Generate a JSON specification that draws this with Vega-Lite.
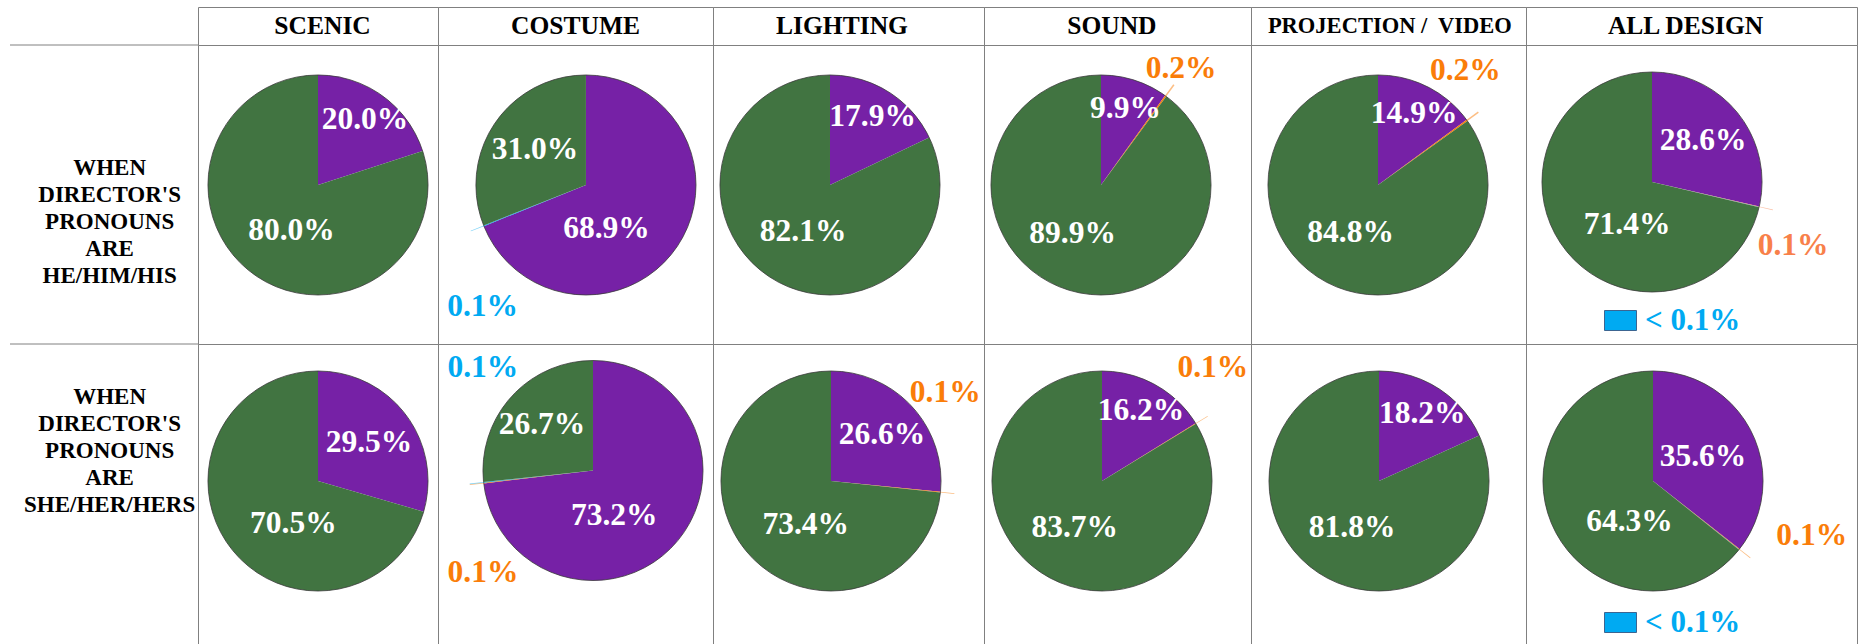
{
  "$schema": "https://vega.github.io/schema/vega-lite/v6.json",
  "padding": {"left": 9, "top": 6, "right": 0, "bottom": 0},
  "background": "white",
  "datasets": {
    "designs": [
      {"design": "SCENIC"}, {"design": "COSTUME"}, {"design": "LIGHTING"},
      {"design": "SOUND"}, {"design": "PROJECTION /\u00a0 VIDEO"}, {"design": "ALL DESIGN"}
    ],
    "rowlabels": [
      {"pronoun": "he", "label": "WHEN DIRECTOR'S PRONOUNS ARE HE/HIM/HIS"},
      {"pronoun": "she", "label": "WHEN DIRECTOR'S PRONOUNS ARE SHE/HER/HERS"}
    ],
    "slices": [
      {"design": "SCENIC", "pronoun": "he", "group": "she/her", "share": 0.200},
      {"design": "SCENIC", "pronoun": "he", "group": "he/him", "share": 0.800},
      {"design": "COSTUME", "pronoun": "he", "group": "she/her", "share": 0.689},
      {"design": "COSTUME", "pronoun": "he", "group": "other", "share": 0.001},
      {"design": "COSTUME", "pronoun": "he", "group": "he/him", "share": 0.310},
      {"design": "LIGHTING", "pronoun": "he", "group": "she/her", "share": 0.179},
      {"design": "LIGHTING", "pronoun": "he", "group": "he/him", "share": 0.821},
      {"design": "SOUND", "pronoun": "he", "group": "she/her", "share": 0.099},
      {"design": "SOUND", "pronoun": "he", "group": "they/them", "share": 0.002},
      {"design": "SOUND", "pronoun": "he", "group": "he/him", "share": 0.899},
      {"design": "PROJECTION /\u00a0 VIDEO", "pronoun": "he", "group": "she/her", "share": 0.149},
      {"design": "PROJECTION /\u00a0 VIDEO", "pronoun": "he", "group": "they/them", "share": 0.002},
      {"design": "PROJECTION /\u00a0 VIDEO", "pronoun": "he", "group": "he/him", "share": 0.848},
      {"design": "ALL DESIGN", "pronoun": "he", "group": "she/her", "share": 0.286},
      {"design": "ALL DESIGN", "pronoun": "he", "group": "they/them", "share": 0.001},
      {"design": "ALL DESIGN", "pronoun": "he", "group": "other", "share": 0.0004},
      {"design": "ALL DESIGN", "pronoun": "he", "group": "he/him", "share": 0.714},
      {"design": "SCENIC", "pronoun": "she", "group": "she/her", "share": 0.295},
      {"design": "SCENIC", "pronoun": "she", "group": "he/him", "share": 0.705},
      {"design": "COSTUME", "pronoun": "she", "group": "she/her", "share": 0.732},
      {"design": "COSTUME", "pronoun": "she", "group": "they/them", "share": 0.001},
      {"design": "COSTUME", "pronoun": "she", "group": "other", "share": 0.001},
      {"design": "COSTUME", "pronoun": "she", "group": "he/him", "share": 0.267},
      {"design": "LIGHTING", "pronoun": "she", "group": "she/her", "share": 0.266},
      {"design": "LIGHTING", "pronoun": "she", "group": "they/them", "share": 0.001},
      {"design": "LIGHTING", "pronoun": "she", "group": "he/him", "share": 0.734},
      {"design": "SOUND", "pronoun": "she", "group": "she/her", "share": 0.162},
      {"design": "SOUND", "pronoun": "she", "group": "they/them", "share": 0.001},
      {"design": "SOUND", "pronoun": "she", "group": "he/him", "share": 0.837},
      {"design": "PROJECTION /\u00a0 VIDEO", "pronoun": "she", "group": "she/her", "share": 0.182},
      {"design": "PROJECTION /\u00a0 VIDEO", "pronoun": "she", "group": "he/him", "share": 0.818},
      {"design": "ALL DESIGN", "pronoun": "she", "group": "she/her", "share": 0.356},
      {"design": "ALL DESIGN", "pronoun": "she", "group": "they/them", "share": 0.001},
      {"design": "ALL DESIGN", "pronoun": "she", "group": "other", "share": 0.0004},
      {"design": "ALL DESIGN", "pronoun": "she", "group": "he/him", "share": 0.643}
    ]
  },
  "columns": 7,
  "spacing": 0,
  "bounds": "flush",
  "align": "each",
  "resolve": {"scale": {"color": "independent"}, "legend": {"color": "independent"}},
  "concat": [
    {"width": 188, "height": 38, "view": {"stroke": null}, "data": {"values": [{"k": 1}]},
     "mark": {"type": "rule", "color": "#808080", "strokeWidth": 1}, "encoding": {"y": {"value": "height"}}},
    {"width": 240, "height": 38, "data": {"name": "designs"}, "transform": [{"filter": "datum.design === 'SCENIC'"}],
     "mark": {"type": "text", "font": "Liberation Serif", "fontWeight": "bold", "fontSize": 25.5, "color": "black", "baseline": "middle"},
     "encoding": {"x": {"field": "design", "type": "nominal", "scale": {"type": "point", "align": 0.519}, "axis": null},
                  "y": {"field": "design", "type": "nominal", "scale": {"type": "point", "align": 0.5}, "axis": null},
                  "text": {"field": "design"}}},
    {"width": 275, "height": 38, "data": {"name": "designs"}, "transform": [{"filter": "datum.design === 'COSTUME'"}],
     "mark": {"type": "text", "font": "Liberation Serif", "fontWeight": "bold", "fontSize": 25.5, "color": "black", "baseline": "middle"},
     "encoding": {"x": {"field": "design", "type": "nominal", "scale": {"type": "point", "align": 0.5}, "axis": null},
                  "y": {"field": "design", "type": "nominal", "scale": {"type": "point", "align": 0.5}, "axis": null},
                  "text": {"field": "design"}}},
    {"width": 271, "height": 38, "data": {"name": "designs"}, "transform": [{"filter": "datum.design === 'LIGHTING'"}],
     "mark": {"type": "text", "font": "Liberation Serif", "fontWeight": "bold", "fontSize": 25.5, "color": "black", "baseline": "middle"},
     "encoding": {"x": {"field": "design", "type": "nominal", "scale": {"type": "point", "align": 0.476}, "axis": null},
                  "y": {"field": "design", "type": "nominal", "scale": {"type": "point", "align": 0.5}, "axis": null},
                  "text": {"field": "design"}}},
    {"width": 267, "height": 38, "data": {"name": "designs"}, "transform": [{"filter": "datum.design === 'SOUND'"}],
     "mark": {"type": "text", "font": "Liberation Serif", "fontWeight": "bold", "fontSize": 25.5, "color": "black", "baseline": "middle"},
     "encoding": {"x": {"field": "design", "type": "nominal", "scale": {"type": "point", "align": 0.479}, "axis": null},
                  "y": {"field": "design", "type": "nominal", "scale": {"type": "point", "align": 0.5}, "axis": null},
                  "text": {"field": "design"}}},
    {"width": 275, "height": 38, "data": {"name": "designs"}, "transform": [{"filter": "datum.design === 'PROJECTION /\u00a0 VIDEO'"}],
     "mark": {"type": "text", "font": "Liberation Serif", "fontWeight": "bold", "fontSize": 22.5, "color": "black", "baseline": "middle"},
     "encoding": {"x": {"field": "design", "type": "nominal", "scale": {"type": "point", "align": 0.505}, "axis": null},
                  "y": {"field": "design", "type": "nominal", "scale": {"type": "point", "align": 0.5}, "axis": null},
                  "text": {"field": "design"}}},
    {"width": 331, "height": 38, "data": {"name": "designs"}, "transform": [{"filter": "datum.design === 'ALL DESIGN'"}],
     "mark": {"type": "text", "font": "Liberation Serif", "fontWeight": "bold", "fontSize": 25.5, "color": "black", "baseline": "middle"},
     "encoding": {"x": {"field": "design", "type": "nominal", "scale": {"type": "point", "align": 0.482}, "axis": null},
                  "y": {"field": "design", "type": "nominal", "scale": {"type": "point", "align": 0.5}, "axis": null},
                  "text": {"field": "design"}}},

    {"width": 188, "height": 299, "view": {"stroke": null}, "data": {"name": "rowlabels"}, "transform": [{"filter": "datum.pronoun === 'he'"}],
     "layer": [
       {"mark": {"type": "text", "font": "Liberation Serif", "fontWeight": "bold", "fontSize": 23, "lineHeight": 27, "lineBreak": " ", "baseline": "middle", "color": "black"},
        "encoding": {"x": {"field": "pronoun", "type": "nominal", "scale": {"type": "point", "align": 0.53}, "axis": null},
                     "y": {"field": "pronoun", "type": "nominal", "scale": {"type": "point", "align": 0.411}, "axis": null},
                     "text": {"field": "label"}}},
       {"mark": {"type": "rule", "color": "#808080", "strokeWidth": 1}, "encoding": {"y": {"value": "height"}}}
     ]},

    {"width": 240, "height": 299, "data": {"name": "slices"},
     "transform": [{"filter": "datum.design === 'SCENIC' && datum.pronoun === 'he'"},
                   {"calculate": "indexof(['she/her','they/them','other','he/him'], datum.group)", "as": "ord"},
                   {"stack": "share", "groupby": ["pronoun"], "sort": [{"field": "ord", "order": "ascending"}], "offset": "normalize", "as": ["s0", "s1"]},
                   {"calculate": "(datum.s0 + datum.s1) / 2", "as": "mid"},
                   {"calculate": "datum.share >= 0.5 ? (datum.mid >= 0.5 ? 0.583 : 0.431) : datum.mid", "as": "lab"}],
     "encoding": {"x": {"field": "design", "type": "nominal", "scale": {"type": "point", "align": 0.5}, "axis": null},
                  "y": {"field": "pronoun", "type": "nominal", "scale": {"type": "point", "align": 0.4682}, "axis": null},
                  "color": {"field": "group", "type": "nominal", "scale": {"domain": ["she/her", "they/them", "other", "he/him"], "range": ["#7621A6", "#FA7D09", "#00AAF2", "#417441"]}, "legend": null}},
     "layer": [
       {"mark": {"type": "arc", "radius": 110}, "encoding": {"theta": {"field": "s0", "type": "quantitative", "scale": {"domain": [0, 1]}}, "theta2": {"field": "s1"}}},
       {"transform": [{"filter": "datum.ord === 0"}], "mark": {"type": "arc", "radius": 110, "theta": 0, "theta2": 6.2832, "strokeWidth": 0.8}, "encoding": {"fill": {"value": "transparent"}, "stroke": {"value": "#3a3a3a"}}},
       {"transform": [{"filter": "datum.share >= 0.01"}], "mark": {"type": "text", "font": "Liberation Serif", "fontSize": 31.5, "fontWeight": "bold", "baseline": "middle"}, "encoding": {"theta": {"field": "lab", "type": "quantitative", "stack": null}, "radius": {"field": "share", "type": "quantitative", "scale": {"type": "linear", "zero": false, "clamp": true, "domain": [0.1, 0.2, 0.3, 0.36, 0.64, 0.9], "range": [80, 80, 63, 55, 47, 57]}}, "text": {"field": "share", "type": "quantitative", "format": ".1%"}, "color": {"value": "white"}}}
     ]},

    {"width": 275, "height": 299, "data": {"name": "slices"},
     "transform": [{"filter": "datum.design === 'COSTUME' && datum.pronoun === 'he'"},
                   {"calculate": "indexof(['she/her','they/them','other','he/him'], datum.group)", "as": "ord"},
                   {"stack": "share", "groupby": ["pronoun"], "sort": [{"field": "ord", "order": "ascending"}], "offset": "normalize", "as": ["s0", "s1"]},
                   {"calculate": "(datum.s0 + datum.s1) / 2", "as": "mid"},
                   {"calculate": "datum.share >= 0.5 ? (datum.mid >= 0.5 ? 0.583 : 0.431) : datum.mid", "as": "lab"}],
     "encoding": {"x": {"field": "design", "type": "nominal", "scale": {"type": "point", "align": 0.538}, "axis": null},
                  "y": {"field": "pronoun", "type": "nominal", "scale": {"type": "point", "align": 0.4682}, "axis": null},
                  "color": {"field": "group", "type": "nominal", "scale": {"domain": ["she/her", "they/them", "other", "he/him"], "range": ["#7621A6", "#FA7D09", "#00AAF2", "#417441"]}, "legend": null}},
     "layer": [
       {"mark": {"type": "arc", "radius": 110}, "encoding": {"theta": {"field": "s0", "type": "quantitative", "scale": {"domain": [0, 1]}}, "theta2": {"field": "s1"}}},
       {"transform": [{"filter": "datum.ord === 0"}], "mark": {"type": "arc", "radius": 110, "theta": 0, "theta2": 6.2832, "strokeWidth": 0.8}, "encoding": {"fill": {"value": "transparent"}, "stroke": {"value": "#3a3a3a"}}},
       {"transform": [{"filter": "datum.share >= 0.001 && datum.share < 0.01"}], "mark": {"type": "arc", "radius": 124, "radius2": 110, "opacity": 0.5}, "encoding": {"theta": {"field": "s0", "type": "quantitative"}, "theta2": {"field": "s1"}}},
       {"transform": [{"filter": "datum.share >= 0.01"}], "mark": {"type": "text", "font": "Liberation Serif", "fontSize": 31.5, "fontWeight": "bold", "baseline": "middle"}, "encoding": {"theta": {"field": "lab", "type": "quantitative", "stack": null}, "radius": {"field": "share", "type": "quantitative", "scale": {"type": "linear", "zero": false, "clamp": true, "domain": [0.1, 0.2, 0.3, 0.36, 0.64, 0.9], "range": [80, 80, 63, 55, 47, 57]}}, "text": {"field": "share", "type": "quantitative", "format": ".1%"}, "color": {"value": "white"}}},
       {"transform": [{"filter": "datum.share >= 0.001 && datum.share < 0.01"}], "mark": {"type": "text", "radius": 150, "dx": 36, "dy": 66, "font": "Liberation Serif", "fontSize": 31.5, "fontWeight": "bold", "baseline": "middle"}, "encoding": {"theta": {"field": "mid", "type": "quantitative", "stack": null}, "text": {"field": "share", "type": "quantitative", "format": ".1%"}}}
     ]},

    {"width": 271, "height": 299, "data": {"name": "slices"},
     "transform": [{"filter": "datum.design === 'LIGHTING' && datum.pronoun === 'he'"},
                   {"calculate": "indexof(['she/her','they/them','other','he/him'], datum.group)", "as": "ord"},
                   {"stack": "share", "groupby": ["pronoun"], "sort": [{"field": "ord", "order": "ascending"}], "offset": "normalize", "as": ["s0", "s1"]},
                   {"calculate": "(datum.s0 + datum.s1) / 2", "as": "mid"},
                   {"calculate": "datum.share >= 0.5 ? (datum.mid >= 0.5 ? 0.583 : 0.431) : datum.mid", "as": "lab"}],
     "encoding": {"x": {"field": "design", "type": "nominal", "scale": {"type": "point", "align": 0.4317}, "axis": null},
                  "y": {"field": "pronoun", "type": "nominal", "scale": {"type": "point", "align": 0.4682}, "axis": null},
                  "color": {"field": "group", "type": "nominal", "scale": {"domain": ["she/her", "they/them", "other", "he/him"], "range": ["#7621A6", "#FA7D09", "#00AAF2", "#417441"]}, "legend": null}},
     "layer": [
       {"mark": {"type": "arc", "radius": 110}, "encoding": {"theta": {"field": "s0", "type": "quantitative", "scale": {"domain": [0, 1]}}, "theta2": {"field": "s1"}}},
       {"transform": [{"filter": "datum.ord === 0"}], "mark": {"type": "arc", "radius": 110, "theta": 0, "theta2": 6.2832, "strokeWidth": 0.8}, "encoding": {"fill": {"value": "transparent"}, "stroke": {"value": "#3a3a3a"}}},
       {"transform": [{"filter": "datum.share >= 0.01"}], "mark": {"type": "text", "font": "Liberation Serif", "fontSize": 31.5, "fontWeight": "bold", "baseline": "middle"}, "encoding": {"theta": {"field": "lab", "type": "quantitative", "stack": null}, "radius": {"field": "share", "type": "quantitative", "scale": {"type": "linear", "zero": false, "clamp": true, "domain": [0.1, 0.2, 0.3, 0.36, 0.64, 0.9], "range": [80, 80, 63, 55, 47, 57]}}, "text": {"field": "share", "type": "quantitative", "format": ".1%"}, "color": {"value": "white"}}}
     ]},

    {"width": 267, "height": 299, "data": {"name": "slices"},
     "transform": [{"filter": "datum.design === 'SOUND' && datum.pronoun === 'he'"},
                   {"calculate": "indexof(['she/her','they/them','other','he/him'], datum.group)", "as": "ord"},
                   {"stack": "share", "groupby": ["pronoun"], "sort": [{"field": "ord", "order": "ascending"}], "offset": "normalize", "as": ["s0", "s1"]},
                   {"calculate": "(datum.s0 + datum.s1) / 2", "as": "mid"},
                   {"calculate": "datum.share >= 0.5 ? (datum.mid >= 0.5 ? 0.583 : 0.431) : datum.mid", "as": "lab"}],
     "encoding": {"x": {"field": "design", "type": "nominal", "scale": {"type": "point", "align": 0.4382}, "axis": null},
                  "y": {"field": "pronoun", "type": "nominal", "scale": {"type": "point", "align": 0.4682}, "axis": null},
                  "color": {"field": "group", "type": "nominal", "scale": {"domain": ["she/her", "they/them", "other", "he/him"], "range": ["#7621A6", "#FA7D09", "#00AAF2", "#417441"]}, "legend": null}},
     "layer": [
       {"mark": {"type": "arc", "radius": 110}, "encoding": {"theta": {"field": "s0", "type": "quantitative", "scale": {"domain": [0, 1]}}, "theta2": {"field": "s1"}}},
       {"transform": [{"filter": "datum.ord === 0"}], "mark": {"type": "arc", "radius": 110, "theta": 0, "theta2": 6.2832, "strokeWidth": 0.8}, "encoding": {"fill": {"value": "transparent"}, "stroke": {"value": "#3a3a3a"}}},
       {"transform": [{"filter": "datum.share >= 0.001 && datum.share < 0.01"}], "mark": {"type": "arc", "radius": 124, "radius2": 110, "opacity": 0.5}, "encoding": {"theta": {"field": "s0", "type": "quantitative"}, "theta2": {"field": "s1"}}},
       {"transform": [{"filter": "datum.share >= 0.01"}], "mark": {"type": "text", "font": "Liberation Serif", "fontSize": 31.5, "fontWeight": "bold", "baseline": "middle"}, "encoding": {"theta": {"field": "lab", "type": "quantitative", "stack": null}, "radius": {"field": "share", "type": "quantitative", "scale": {"type": "linear", "zero": false, "clamp": true, "domain": [0.1, 0.2, 0.3, 0.36, 0.64, 0.9], "range": [80, 80, 63, 55, 47, 57]}}, "text": {"field": "share", "type": "quantitative", "format": ".1%"}, "color": {"value": "white"}}},
       {"transform": [{"filter": "datum.share >= 0.001 && datum.share < 0.01"}], "mark": {"type": "text", "radius": 150, "dx": -8, "dy": 5, "font": "Liberation Serif", "fontSize": 31.5, "fontWeight": "bold", "baseline": "middle"}, "encoding": {"theta": {"field": "mid", "type": "quantitative", "stack": null}, "text": {"field": "share", "type": "quantitative", "format": ".1%"}}}
     ]},

    {"width": 275, "height": 299, "data": {"name": "slices"},
     "transform": [{"filter": "datum.design === 'PROJECTION /\u00a0 VIDEO' && datum.pronoun === 'he'"},
                   {"calculate": "indexof(['she/her','they/them','other','he/him'], datum.group)", "as": "ord"},
                   {"stack": "share", "groupby": ["pronoun"], "sort": [{"field": "ord", "order": "ascending"}], "offset": "normalize", "as": ["s0", "s1"]},
                   {"calculate": "(datum.s0 + datum.s1) / 2", "as": "mid"},
                   {"calculate": "datum.share >= 0.5 ? (datum.mid >= 0.5 ? 0.583 : 0.431) : datum.mid", "as": "lab"}],
     "encoding": {"x": {"field": "design", "type": "nominal", "scale": {"type": "point", "align": 0.4618}, "axis": null},
                  "y": {"field": "pronoun", "type": "nominal", "scale": {"type": "point", "align": 0.4682}, "axis": null},
                  "color": {"field": "group", "type": "nominal", "scale": {"domain": ["she/her", "they/them", "other", "he/him"], "range": ["#7621A6", "#FA7D09", "#00AAF2", "#417441"]}, "legend": null}},
     "layer": [
       {"mark": {"type": "arc", "radius": 110}, "encoding": {"theta": {"field": "s0", "type": "quantitative", "scale": {"domain": [0, 1]}}, "theta2": {"field": "s1"}}},
       {"transform": [{"filter": "datum.ord === 0"}], "mark": {"type": "arc", "radius": 110, "theta": 0, "theta2": 6.2832, "strokeWidth": 0.8}, "encoding": {"fill": {"value": "transparent"}, "stroke": {"value": "#3a3a3a"}}},
       {"transform": [{"filter": "datum.share >= 0.001 && datum.share < 0.01"}], "mark": {"type": "arc", "radius": 124, "radius2": 110, "opacity": 0.5}, "encoding": {"theta": {"field": "s0", "type": "quantitative"}, "theta2": {"field": "s1"}}},
       {"transform": [{"filter": "datum.share >= 0.01"}], "mark": {"type": "text", "font": "Liberation Serif", "fontSize": 31.5, "fontWeight": "bold", "baseline": "middle"}, "encoding": {"theta": {"field": "lab", "type": "quantitative", "stack": null}, "radius": {"field": "share", "type": "quantitative", "scale": {"type": "linear", "zero": false, "clamp": true, "domain": [0.1, 0.2, 0.3, 0.36, 0.64, 0.9], "range": [80, 80, 63, 55, 47, 57]}}, "text": {"field": "share", "type": "quantitative", "format": ".1%"}, "color": {"value": "white"}}},
       {"transform": [{"filter": "datum.share >= 0.001 && datum.share < 0.01"}], "mark": {"type": "text", "radius": 150, "dx": -34, "dy": -26, "font": "Liberation Serif", "fontSize": 31.5, "fontWeight": "bold", "baseline": "middle"}, "encoding": {"theta": {"field": "mid", "type": "quantitative", "stack": null}, "text": {"field": "share", "type": "quantitative", "format": ".1%"}}}
     ]},

    {"width": 331, "height": 299, "data": {"name": "slices"},
     "transform": [{"filter": "datum.design === 'ALL DESIGN' && datum.pronoun === 'he'"},
                   {"calculate": "indexof(['she/her','they/them','other','he/him'], datum.group)", "as": "ord"},
                   {"stack": "share", "groupby": ["pronoun"], "sort": [{"field": "ord", "order": "ascending"}], "offset": "normalize", "as": ["s0", "s1"]},
                   {"calculate": "(datum.s0 + datum.s1) / 2", "as": "mid"},
                   {"calculate": "datum.share >= 0.5 ? (datum.mid >= 0.5 ? 0.583 : 0.431) : datum.mid", "as": "lab"}],
     "encoding": {"x": {"field": "design", "type": "nominal", "scale": {"type": "point", "align": 0.3807}, "axis": null},
                  "y": {"field": "pronoun", "type": "nominal", "scale": {"type": "point", "align": 0.4582}, "axis": null},
                  "color": {"field": "group", "type": "nominal", "scale": {"domain": ["she/her", "they/them", "other", "he/him"], "range": ["#7621A6", "#F8804A", "#00AAF2", "#417441"]},
                            "legend": {"values": ["other"], "title": null, "orient": "none", "legendX": 78, "legendY": 259, "padding": 0,
                                       "symbolType": "M-1,-0.625L1,-0.625L1,0.625L-1,0.625Z", "symbolSize": 1024, "symbolStrokeColor": "#3c6591", "symbolStrokeWidth": 1, "symbolOpacity": 1,
                                       "labelExpr": "'< 0.1%'", "labelFont": "Liberation Serif", "labelFontSize": 31, "labelFontWeight": "bold", "labelColor": "#00AAF2", "labelOffset": 8}}},
     "layer": [
       {"mark": {"type": "arc", "radius": 110}, "encoding": {"theta": {"field": "s0", "type": "quantitative", "scale": {"domain": [0, 1]}}, "theta2": {"field": "s1"}}},
       {"transform": [{"filter": "datum.ord === 0"}], "mark": {"type": "arc", "radius": 110, "theta": 0, "theta2": 6.2832, "strokeWidth": 0.8}, "encoding": {"fill": {"value": "transparent"}, "stroke": {"value": "#3a3a3a"}}},
       {"transform": [{"filter": "datum.share >= 0.001 && datum.share < 0.01"}], "mark": {"type": "arc", "radius": 124, "radius2": 110, "opacity": 0.5}, "encoding": {"theta": {"field": "s0", "type": "quantitative"}, "theta2": {"field": "s1"}}},
       {"transform": [{"filter": "datum.share >= 0.01"}], "mark": {"type": "text", "font": "Liberation Serif", "fontSize": 31.5, "fontWeight": "bold", "baseline": "middle"}, "encoding": {"theta": {"field": "lab", "type": "quantitative", "stack": null}, "radius": {"field": "share", "type": "quantitative", "scale": {"type": "linear", "zero": false, "clamp": true, "domain": [0.1, 0.2, 0.3, 0.36, 0.64, 0.9], "range": [80, 80, 63, 55, 47, 57]}}, "text": {"field": "share", "type": "quantitative", "format": ".1%"}, "color": {"value": "white"}}},
       {"transform": [{"filter": "datum.share >= 0.001 && datum.share < 0.01"}], "mark": {"type": "text", "radius": 150, "dx": -5, "dy": 30, "font": "Liberation Serif", "fontSize": 31.5, "fontWeight": "bold", "baseline": "middle"}, "encoding": {"theta": {"field": "mid", "type": "quantitative", "stack": null}, "text": {"field": "share", "type": "quantitative", "format": ".1%"}}}
     ]},

    {"width": 188, "height": 300, "view": {"stroke": null}, "data": {"name": "rowlabels"}, "transform": [{"filter": "datum.pronoun === 'she'"}],
     "mark": {"type": "text", "font": "Liberation Serif", "fontWeight": "bold", "fontSize": 23, "lineHeight": 27, "lineBreak": " ", "baseline": "middle", "color": "black"},
     "encoding": {"x": {"field": "pronoun", "type": "nominal", "scale": {"type": "point", "align": 0.53}, "axis": null},
                  "y": {"field": "pronoun", "type": "nominal", "scale": {"type": "point", "align": 0.177}, "axis": null},
                  "text": {"field": "label"}}},

    {"width": 240, "height": 300, "data": {"name": "slices"},
     "transform": [{"filter": "datum.design === 'SCENIC' && datum.pronoun === 'she'"},
                   {"calculate": "indexof(['she/her','they/them','other','he/him'], datum.group)", "as": "ord"},
                   {"stack": "share", "groupby": ["pronoun"], "sort": [{"field": "ord", "order": "ascending"}], "offset": "normalize", "as": ["s0", "s1"]},
                   {"calculate": "(datum.s0 + datum.s1) / 2", "as": "mid"},
                   {"calculate": "datum.share >= 0.5 ? (datum.mid >= 0.5 ? 0.583 : 0.431) : datum.mid", "as": "lab"}],
     "encoding": {"x": {"field": "design", "type": "nominal", "scale": {"type": "point", "align": 0.5}, "axis": null},
                  "y": {"field": "pronoun", "type": "nominal", "scale": {"type": "point", "align": 0.4567}, "axis": null},
                  "color": {"field": "group", "type": "nominal", "scale": {"domain": ["she/her", "they/them", "other", "he/him"], "range": ["#7621A6", "#FA7D09", "#00AAF2", "#417441"]}, "legend": null}},
     "layer": [
       {"mark": {"type": "arc", "radius": 110}, "encoding": {"theta": {"field": "s0", "type": "quantitative", "scale": {"domain": [0, 1]}}, "theta2": {"field": "s1"}}},
       {"transform": [{"filter": "datum.ord === 0"}], "mark": {"type": "arc", "radius": 110, "theta": 0, "theta2": 6.2832, "strokeWidth": 0.8}, "encoding": {"fill": {"value": "transparent"}, "stroke": {"value": "#3a3a3a"}}},
       {"transform": [{"filter": "datum.share >= 0.01"}], "mark": {"type": "text", "font": "Liberation Serif", "fontSize": 31.5, "fontWeight": "bold", "baseline": "middle"}, "encoding": {"theta": {"field": "lab", "type": "quantitative", "stack": null}, "radius": {"field": "share", "type": "quantitative", "scale": {"type": "linear", "zero": false, "clamp": true, "domain": [0.1, 0.2, 0.3, 0.36, 0.64, 0.9], "range": [80, 80, 63, 55, 47, 57]}}, "text": {"field": "share", "type": "quantitative", "format": ".1%"}, "color": {"value": "white"}}}
     ]},

    {"width": 275, "height": 300, "data": {"name": "slices"},
     "transform": [{"filter": "datum.design === 'COSTUME' && datum.pronoun === 'she'"},
                   {"calculate": "indexof(['she/her','they/them','other','he/him'], datum.group)", "as": "ord"},
                   {"stack": "share", "groupby": ["pronoun"], "sort": [{"field": "ord", "order": "ascending"}], "offset": "normalize", "as": ["s0", "s1"]},
                   {"calculate": "(datum.s0 + datum.s1) / 2", "as": "mid"},
                   {"calculate": "datum.share >= 0.5 ? (datum.mid >= 0.5 ? 0.583 : 0.431) : datum.mid", "as": "lab"}],
     "encoding": {"x": {"field": "design", "type": "nominal", "scale": {"type": "point", "align": 0.5636}, "axis": null},
                  "y": {"field": "pronoun", "type": "nominal", "scale": {"type": "point", "align": 0.4217}, "axis": null},
                  "color": {"field": "group", "type": "nominal", "scale": {"domain": ["she/her", "they/them", "other", "he/him"], "range": ["#7621A6", "#FA7D09", "#00AAF2", "#417441"]}, "legend": null}},
     "layer": [
       {"mark": {"type": "arc", "radius": 110}, "encoding": {"theta": {"field": "s0", "type": "quantitative", "scale": {"domain": [0, 1]}}, "theta2": {"field": "s1"}}},
       {"transform": [{"filter": "datum.ord === 0"}], "mark": {"type": "arc", "radius": 110, "theta": 0, "theta2": 6.2832, "strokeWidth": 0.8}, "encoding": {"fill": {"value": "transparent"}, "stroke": {"value": "#3a3a3a"}}},
       {"transform": [{"filter": "datum.share >= 0.001 && datum.share < 0.01"}], "mark": {"type": "arc", "radius": 124, "radius2": 110, "opacity": 0.5}, "encoding": {"theta": {"field": "s0", "type": "quantitative"}, "theta2": {"field": "s1"}}},
       {"transform": [{"filter": "datum.share >= 0.01"}], "mark": {"type": "text", "font": "Liberation Serif", "fontSize": 31.5, "fontWeight": "bold", "baseline": "middle"}, "encoding": {"theta": {"field": "lab", "type": "quantitative", "stack": null}, "radius": {"field": "share", "type": "quantitative", "scale": {"type": "linear", "zero": false, "clamp": true, "domain": [0.1, 0.2, 0.3, 0.36, 0.64, 0.9], "range": [80, 80, 63, 55, 47, 57]}}, "text": {"field": "share", "type": "quantitative", "format": ".1%"}, "color": {"value": "white"}}},
       {"transform": [{"filter": "datum.group === 'other'"}], "mark": {"type": "text", "radius": 150, "dx": 39, "dy": -119, "font": "Liberation Serif", "fontSize": 31.5, "fontWeight": "bold", "baseline": "middle"}, "encoding": {"theta": {"field": "mid", "type": "quantitative", "stack": null}, "text": {"field": "share", "type": "quantitative", "format": ".1%"}}},
       {"transform": [{"filter": "datum.group === 'they/them'"}], "mark": {"type": "text", "radius": 150, "dx": 39, "dy": 85, "font": "Liberation Serif", "fontSize": 31.5, "fontWeight": "bold", "baseline": "middle"}, "encoding": {"theta": {"field": "mid", "type": "quantitative", "stack": null}, "text": {"field": "share", "type": "quantitative", "format": ".1%"}}}
     ]},

    {"width": 271, "height": 300, "data": {"name": "slices"},
     "transform": [{"filter": "datum.design === 'LIGHTING' && datum.pronoun === 'she'"},
                   {"calculate": "indexof(['she/her','they/them','other','he/him'], datum.group)", "as": "ord"},
                   {"stack": "share", "groupby": ["pronoun"], "sort": [{"field": "ord", "order": "ascending"}], "offset": "normalize", "as": ["s0", "s1"]},
                   {"calculate": "(datum.s0 + datum.s1) / 2", "as": "mid"},
                   {"calculate": "datum.share >= 0.5 ? (datum.mid >= 0.5 ? 0.583 : 0.431) : datum.mid", "as": "lab"}],
     "encoding": {"x": {"field": "design", "type": "nominal", "scale": {"type": "point", "align": 0.4354}, "axis": null},
                  "y": {"field": "pronoun", "type": "nominal", "scale": {"type": "point", "align": 0.4567}, "axis": null},
                  "color": {"field": "group", "type": "nominal", "scale": {"domain": ["she/her", "they/them", "other", "he/him"], "range": ["#7621A6", "#FA7D09", "#00AAF2", "#417441"]}, "legend": null}},
     "layer": [
       {"mark": {"type": "arc", "radius": 110}, "encoding": {"theta": {"field": "s0", "type": "quantitative", "scale": {"domain": [0, 1]}}, "theta2": {"field": "s1"}}},
       {"transform": [{"filter": "datum.ord === 0"}], "mark": {"type": "arc", "radius": 110, "theta": 0, "theta2": 6.2832, "strokeWidth": 0.8}, "encoding": {"fill": {"value": "transparent"}, "stroke": {"value": "#3a3a3a"}}},
       {"transform": [{"filter": "datum.share >= 0.001 && datum.share < 0.01"}], "mark": {"type": "arc", "radius": 124, "radius2": 110, "opacity": 0.5}, "encoding": {"theta": {"field": "s0", "type": "quantitative"}, "theta2": {"field": "s1"}}},
       {"transform": [{"filter": "datum.share >= 0.01"}], "mark": {"type": "text", "font": "Liberation Serif", "fontSize": 31.5, "fontWeight": "bold", "baseline": "middle"}, "encoding": {"theta": {"field": "lab", "type": "quantitative", "stack": null}, "radius": {"field": "share", "type": "quantitative", "scale": {"type": "linear", "zero": false, "clamp": true, "domain": [0.1, 0.2, 0.3, 0.36, 0.64, 0.9], "range": [80, 80, 63, 55, 47, 57]}}, "text": {"field": "share", "type": "quantitative", "format": ".1%"}, "color": {"value": "white"}}},
       {"transform": [{"filter": "datum.share >= 0.001 && datum.share < 0.01"}], "mark": {"type": "text", "radius": 150, "dx": -35, "dy": -103, "font": "Liberation Serif", "fontSize": 31.5, "fontWeight": "bold", "baseline": "middle"}, "encoding": {"theta": {"field": "mid", "type": "quantitative", "stack": null}, "text": {"field": "share", "type": "quantitative", "format": ".1%"}}}
     ]},

    {"width": 267, "height": 300, "data": {"name": "slices"},
     "transform": [{"filter": "datum.design === 'SOUND' && datum.pronoun === 'she'"},
                   {"calculate": "indexof(['she/her','they/them','other','he/him'], datum.group)", "as": "ord"},
                   {"stack": "share", "groupby": ["pronoun"], "sort": [{"field": "ord", "order": "ascending"}], "offset": "normalize", "as": ["s0", "s1"]},
                   {"calculate": "(datum.s0 + datum.s1) / 2", "as": "mid"},
                   {"calculate": "datum.share >= 0.5 ? (datum.mid >= 0.5 ? 0.583 : 0.431) : datum.mid", "as": "lab"}],
     "encoding": {"x": {"field": "design", "type": "nominal", "scale": {"type": "point", "align": 0.4419}, "axis": null},
                  "y": {"field": "pronoun", "type": "nominal", "scale": {"type": "point", "align": 0.4567}, "axis": null},
                  "color": {"field": "group", "type": "nominal", "scale": {"domain": ["she/her", "they/them", "other", "he/him"], "range": ["#7621A6", "#FA7D09", "#00AAF2", "#417441"]}, "legend": null}},
     "layer": [
       {"mark": {"type": "arc", "radius": 110}, "encoding": {"theta": {"field": "s0", "type": "quantitative", "scale": {"domain": [0, 1]}}, "theta2": {"field": "s1"}}},
       {"transform": [{"filter": "datum.ord === 0"}], "mark": {"type": "arc", "radius": 110, "theta": 0, "theta2": 6.2832, "strokeWidth": 0.8}, "encoding": {"fill": {"value": "transparent"}, "stroke": {"value": "#3a3a3a"}}},
       {"transform": [{"filter": "datum.share >= 0.001 && datum.share < 0.01"}], "mark": {"type": "arc", "radius": 124, "radius2": 110, "opacity": 0.5}, "encoding": {"theta": {"field": "s0", "type": "quantitative"}, "theta2": {"field": "s1"}}},
       {"transform": [{"filter": "datum.share >= 0.01"}], "mark": {"type": "text", "font": "Liberation Serif", "fontSize": 31.5, "fontWeight": "bold", "baseline": "middle"}, "encoding": {"theta": {"field": "lab", "type": "quantitative", "stack": null}, "radius": {"field": "share", "type": "quantitative", "scale": {"type": "linear", "zero": false, "clamp": true, "domain": [0.1, 0.2, 0.3, 0.36, 0.64, 0.9], "range": [80, 80, 63, 55, 47, 57]}}, "text": {"field": "share", "type": "quantitative", "format": ".1%"}, "color": {"value": "white"}}},
       {"transform": [{"filter": "datum.share >= 0.001 && datum.share < 0.01"}], "mark": {"type": "text", "radius": 150, "dx": -17, "dy": -35, "font": "Liberation Serif", "fontSize": 31.5, "fontWeight": "bold", "baseline": "middle"}, "encoding": {"theta": {"field": "mid", "type": "quantitative", "stack": null}, "text": {"field": "share", "type": "quantitative", "format": ".1%"}}}
     ]},

    {"width": 275, "height": 300, "data": {"name": "slices"},
     "transform": [{"filter": "datum.design === 'PROJECTION /\u00a0 VIDEO' && datum.pronoun === 'she'"},
                   {"calculate": "indexof(['she/her','they/them','other','he/him'], datum.group)", "as": "ord"},
                   {"stack": "share", "groupby": ["pronoun"], "sort": [{"field": "ord", "order": "ascending"}], "offset": "normalize", "as": ["s0", "s1"]},
                   {"calculate": "(datum.s0 + datum.s1) / 2", "as": "mid"},
                   {"calculate": "datum.share >= 0.5 ? (datum.mid >= 0.5 ? 0.583 : 0.431) : datum.mid", "as": "lab"}],
     "encoding": {"x": {"field": "design", "type": "nominal", "scale": {"type": "point", "align": 0.4655}, "axis": null},
                  "y": {"field": "pronoun", "type": "nominal", "scale": {"type": "point", "align": 0.4567}, "axis": null},
                  "color": {"field": "group", "type": "nominal", "scale": {"domain": ["she/her", "they/them", "other", "he/him"], "range": ["#7621A6", "#FA7D09", "#00AAF2", "#417441"]}, "legend": null}},
     "layer": [
       {"mark": {"type": "arc", "radius": 110}, "encoding": {"theta": {"field": "s0", "type": "quantitative", "scale": {"domain": [0, 1]}}, "theta2": {"field": "s1"}}},
       {"transform": [{"filter": "datum.ord === 0"}], "mark": {"type": "arc", "radius": 110, "theta": 0, "theta2": 6.2832, "strokeWidth": 0.8}, "encoding": {"fill": {"value": "transparent"}, "stroke": {"value": "#3a3a3a"}}},
       {"transform": [{"filter": "datum.share >= 0.01"}], "mark": {"type": "text", "font": "Liberation Serif", "fontSize": 31.5, "fontWeight": "bold", "baseline": "middle"}, "encoding": {"theta": {"field": "lab", "type": "quantitative", "stack": null}, "radius": {"field": "share", "type": "quantitative", "scale": {"type": "linear", "zero": false, "clamp": true, "domain": [0.1, 0.2, 0.3, 0.36, 0.64, 0.9], "range": [80, 80, 63, 55, 47, 57]}}, "text": {"field": "share", "type": "quantitative", "format": ".1%"}, "color": {"value": "white"}}}
     ]},

    {"width": 331, "height": 300, "data": {"name": "slices"},
     "transform": [{"filter": "datum.design === 'ALL DESIGN' && datum.pronoun === 'she'"},
                   {"calculate": "indexof(['she/her','they/them','other','he/him'], datum.group)", "as": "ord"},
                   {"stack": "share", "groupby": ["pronoun"], "sort": [{"field": "ord", "order": "ascending"}], "offset": "normalize", "as": ["s0", "s1"]},
                   {"calculate": "(datum.s0 + datum.s1) / 2", "as": "mid"},
                   {"calculate": "datum.share >= 0.5 ? (datum.mid >= 0.5 ? 0.583 : 0.431) : datum.mid", "as": "lab"}],
     "encoding": {"x": {"field": "design", "type": "nominal", "scale": {"type": "point", "align": 0.3837}, "axis": null},
                  "y": {"field": "pronoun", "type": "nominal", "scale": {"type": "point", "align": 0.4567}, "axis": null},
                  "color": {"field": "group", "type": "nominal", "scale": {"domain": ["she/her", "they/them", "other", "he/him"], "range": ["#7621A6", "#FA7D09", "#00AAF2", "#417441"]},
                            "legend": {"values": ["other"], "title": null, "orient": "none", "legendX": 78, "legendY": 262, "padding": 0,
                                       "symbolType": "M-1,-0.625L1,-0.625L1,0.625L-1,0.625Z", "symbolSize": 1024, "symbolStrokeColor": "#3c6591", "symbolStrokeWidth": 1, "symbolOpacity": 1,
                                       "labelExpr": "'< 0.1%'", "labelFont": "Liberation Serif", "labelFontSize": 31, "labelFontWeight": "bold", "labelColor": "#00AAF2", "labelOffset": 8}}},
     "layer": [
       {"mark": {"type": "arc", "radius": 110}, "encoding": {"theta": {"field": "s0", "type": "quantitative", "scale": {"domain": [0, 1]}}, "theta2": {"field": "s1"}}},
       {"transform": [{"filter": "datum.ord === 0"}], "mark": {"type": "arc", "radius": 110, "theta": 0, "theta2": 6.2832, "strokeWidth": 0.8}, "encoding": {"fill": {"value": "transparent"}, "stroke": {"value": "#3a3a3a"}}},
       {"transform": [{"filter": "datum.share >= 0.001 && datum.share < 0.01"}], "mark": {"type": "arc", "radius": 124, "radius2": 110, "opacity": 0.5}, "encoding": {"theta": {"field": "s0", "type": "quantitative"}, "theta2": {"field": "s1"}}},
       {"transform": [{"filter": "datum.share >= 0.01"}], "mark": {"type": "text", "font": "Liberation Serif", "fontSize": 31.5, "fontWeight": "bold", "baseline": "middle"}, "encoding": {"theta": {"field": "lab", "type": "quantitative", "stack": null}, "radius": {"field": "share", "type": "quantitative", "scale": {"type": "linear", "zero": false, "clamp": true, "domain": [0.1, 0.2, 0.3, 0.36, 0.64, 0.9], "range": [80, 80, 63, 55, 47, 57]}}, "text": {"field": "share", "type": "quantitative", "format": ".1%"}, "color": {"value": "white"}}},
       {"transform": [{"filter": "datum.share >= 0.001 && datum.share < 0.01"}], "mark": {"type": "text", "radius": 150, "dx": 41, "dy": -38, "font": "Liberation Serif", "fontSize": 31.5, "fontWeight": "bold", "baseline": "middle"}, "encoding": {"theta": {"field": "mid", "type": "quantitative", "stack": null}, "text": {"field": "share", "type": "quantitative", "format": ".1%"}}}
     ]}
  ],
  "config": {
    "view": {"stroke": "#808080", "strokeWidth": 1},
    "text": {"font": "Liberation Serif"}
  }
}
